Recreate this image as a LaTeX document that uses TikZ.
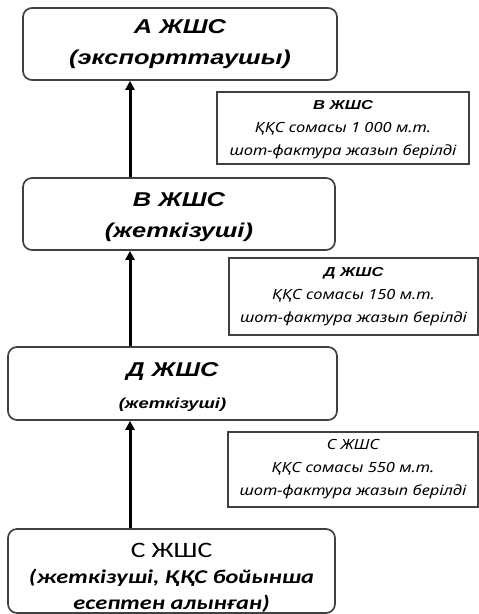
\documentclass[tikz,border=0pt]{standalone}
\usepackage{fontspec}
\setmainfont{Liberation Sans}
\newfontfamily\wide[FakeStretch=1.27, ItalicFont={Liberation Sans Italic},
    BoldFont={Liberation Sans Bold}, BoldItalicFont={Liberation Sans Bold Italic}]{Liberation Sans}
\newfontfamily\notefont[FakeStretch=1.18]{Noto Sans}
\newfontfamily\calfont[FakeStretch=1.25, ItalicFont={Carlito Italic},
    BoldFont={Carlito Bold}, BoldItalicFont={Carlito Bold Italic}]{Carlito}
\newcommand{\notehead}[1]{{\wide\bfseries\itshape\fontsize{13}{23}\selectfont #1}}
\usetikzlibrary{arrows.meta}

\begin{document}
\begin{tikzpicture}[x=1pt, y=-1pt,
        firm/.style={draw=black!75, line width=1.7pt, rounded corners=9pt, align=center, inner sep=0pt},
        note/.style={draw=black!75, line width=1.4pt, align=center, inner sep=0pt,
            font=\notefont\itshape\fontsize{14}{23}\selectfont},
        flow/.style={-{Triangle[length=9pt, width=9pt]}, line width=3pt}]
        \useasboundingbox (0,0) rectangle (479,614);

        \node[firm, minimum width=314pt, minimum height=72pt,
            font=\wide\bfseries\itshape\fontsize{20}{31}\selectfont] (A) at (180,44)
            {А ЖШС\\(экспорттаушы)};
        \node[firm, minimum width=312pt, minimum height=72pt,
            font=\wide\bfseries\itshape\fontsize{20}{31}\selectfont] (B) at (179,214)
            {\rule{0pt}{21pt}В ЖШС\\(жеткізуші)};
        \node[firm, minimum width=329pt, minimum height=73pt,
            font=\wide\bfseries\itshape\fontsize{20}{30}\selectfont] (D) at (172.5,383.5)
            {\rule{0pt}{20pt}Д ЖШС\\[2pt]{\fontsize{14.5}{30}\selectfont(жеткізуші)}};
        \node[firm, minimum width=327pt, minimum height=84pt,
            font=\calfont\fontsize{22}{26}\selectfont] (C) at (171.5,571)
            {\rule{0pt}{27pt}С ЖШС\\{\bfseries\itshape\fontsize{19.5}{26}\selectfont(жеткізуші, ҚҚС бойынша}\\
             {\bfseries\itshape\fontsize{19.5}{26}\selectfont есептен алынған)}};

        \node[note, minimum width=252pt, minimum height=72pt] (nB) at (343,128)
            {\rule{0pt}{13pt}\notehead{В ЖШС}\\ҚҚС сомасы 1 000 м.т.\\шот-фактура жазып берілді};
        \node[note, minimum width=249pt, minimum height=77pt] (nD) at (353.5,296.5)
            {\notehead{Д ЖШС}\\ҚҚС сомасы 150 м.т.\\шот-фактура жазып берілді};
        \node[note, minimum width=250pt, minimum height=75pt] (nC) at (353,469.5)
            {С ЖШС\\ҚҚС сомасы 550 м.т.\\шот-фактура жазып берілді};

        \coordinate (ax) at (130,0);
        \draw[flow] (B.north -| ax) -- (A.south -| ax);
        \draw[flow] (D.north -| ax) -- (B.south -| ax);
        \draw[flow] (C.north -| ax) -- (D.south -| ax);
\end{tikzpicture}
\end{document}
